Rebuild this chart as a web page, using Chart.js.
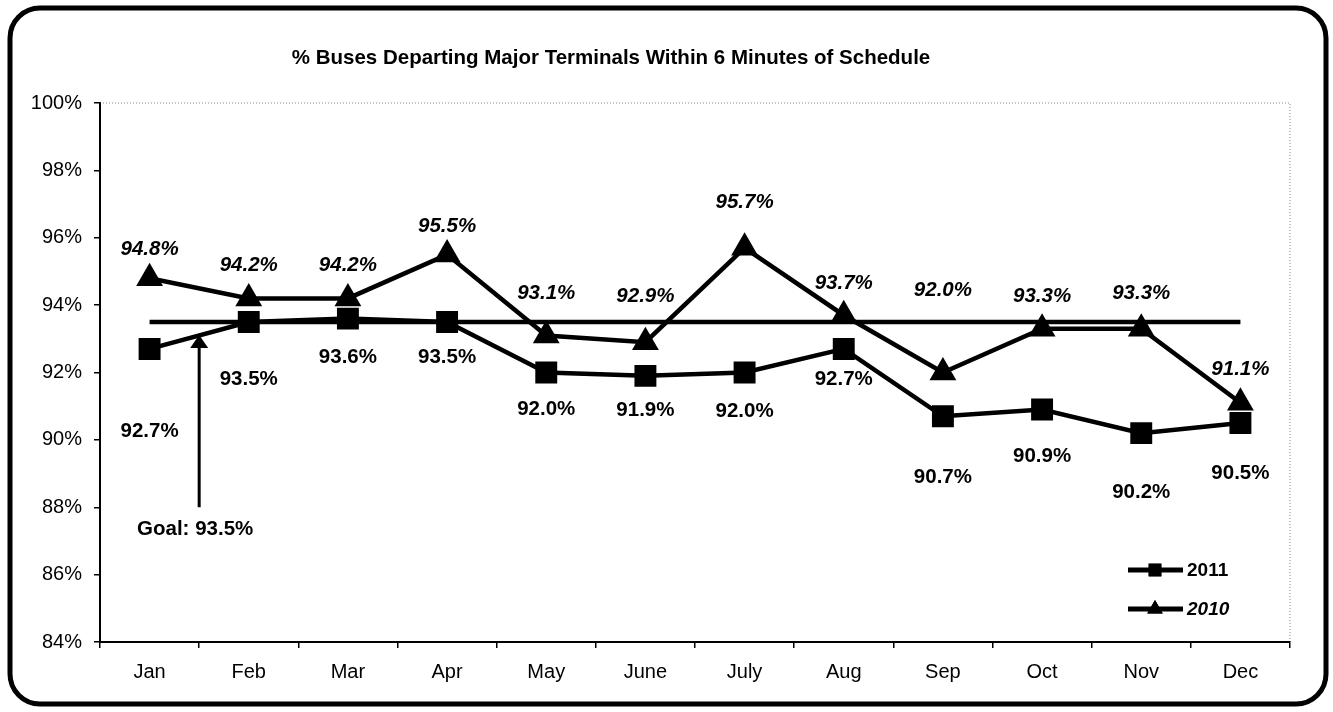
<!DOCTYPE html>
<html>
<head>
<meta charset="utf-8">
<script src="https://cdn.jsdelivr.net/npm/chart.js@4/dist/chart.umd.min.js"></script>
<style>
  html, body { margin: 0; padding: 0; background: #fff; }
  canvas { display: block; }
</style>
</head>
<body>
<canvas id="canvas" width="1333" height="712"></canvas>
<script>
// chart values
const months = ["Jan", "Feb", "Mar", "Apr", "May", "June", "July", "Aug", "Sep", "Oct", "Nov", "Dec"];
const y2011 = [92.7, 93.5, 93.6, 93.5, 92.0, 91.9, 92.0, 92.7, 90.7, 90.9, 90.2, 90.5];
const y2010 = [94.8, 94.2, 94.2, 95.5, 93.1, 92.9, 95.7, 93.7, 92.0, 93.3, 93.3, 91.1];
const goal = [93.5, 93.5, 93.5, 93.5, 93.5, 93.5, 93.5, 93.5, 93.5, 93.5, 93.5, 93.5];
const yTicks = [84, 86, 88, 90, 92, 94, 96, 98, 100];
const title = "% Buses Departing Major Terminals Within 6 Minutes of Schedule";

// label nudges (px) so the labels sit where the original put them
const dy2011 = [82, 57, 39, 35, 37, 34, 39, 30, 61, 47, 59, 50];
const dy2010 = [-29, -33, -33, -28, -42, -46, -46, -32, -82, -32, -35, -33];

const FONT = "'Liberation Sans', Arial, sans-serif";

const frame = {
  id: 'frame',
  beforeDraw(chart) {
    const ctx = chart.ctx;
    ctx.save();
    ctx.fillStyle = '#fff';
    ctx.fillRect(0, 0, chart.width, chart.height);
    ctx.lineWidth = 5;
    ctx.strokeStyle = '#000';
    ctx.beginPath();
    ctx.roundRect(10, 8, 1316, 696, 30);
    ctx.stroke();
    // title
    ctx.fillStyle = '#000';
    ctx.font = 'bold 20.5px ' + FONT;
    ctx.textAlign = 'center';
    ctx.textBaseline = 'middle';
    ctx.fillText(title, 611, 58);
    // dotted top / right edge of the plot
    const a = chart.chartArea;
    ctx.strokeStyle = '#888';
    ctx.lineWidth = 1;
    ctx.setLineDash([1, 2]);
    ctx.beginPath();
    ctx.moveTo(a.left, a.top);
    ctx.lineTo(a.right, a.top);
    ctx.lineTo(a.right, a.bottom);
    ctx.stroke();
    ctx.restore();
  },
  afterDatasetsDraw(chart) {
    const ctx = chart.ctx;
    const xs = chart.scales.x, ys = chart.scales.y;
    ctx.save();
    ctx.fillStyle = '#000';
    ctx.textAlign = 'center';
    ctx.textBaseline = 'middle';
    // data labels
    const m11 = chart.getDatasetMeta(0), m10 = chart.getDatasetMeta(1);
    ctx.font = 'bold 20.5px ' + FONT;
    y2011.forEach((v, i) => {
      const p = m11.data[i];
      ctx.fillText(v.toFixed(1) + '%', p.x, p.y + dy2011[i]);
    });
    ctx.font = 'italic bold 20.5px ' + FONT;
    y2010.forEach((v, i) => {
      const p = m10.data[i];
      ctx.fillText(v.toFixed(1) + '%', p.x, p.y + dy2010[i]);
    });

    // goal arrow
    const ax = (xs.getPixelForValue(0) + xs.getPixelForValue(1)) / 2;
    const tip = ys.getPixelForValue(goal[0]) + 13;
    const end = ys.getPixelForValue(88);
    ctx.strokeStyle = '#000';
    ctx.lineWidth = 3;
    ctx.beginPath();
    ctx.moveTo(ax, tip + 8);
    ctx.lineTo(ax, end);
    ctx.stroke();
    ctx.beginPath();
    ctx.moveTo(ax, tip);
    ctx.lineTo(ax - 9, tip + 13);
    ctx.lineTo(ax + 9, tip + 13);
    ctx.closePath();
    ctx.fill();
    ctx.font = 'bold 20.5px ' + FONT;
    ctx.fillText('Goal: ' + goal[0] + '%', ax - 4, end + 22);

    // legend
    const rows = [
      { label: '2011', style: 'rect', font: 'bold 19px ' + FONT, y: 570 },
      { label: '2010', style: 'triangle', font: 'italic bold 19px ' + FONT, y: 609 }
    ];
    rows.forEach(r => {
      ctx.lineWidth = 5;
      ctx.beginPath();
      ctx.moveTo(1128, r.y);
      ctx.lineTo(1183, r.y);
      ctx.stroke();
      Chart.helpers.drawPoint(ctx, { pointStyle: r.style, radius: 9, borderWidth: 0 }, 1155, r.y);
      ctx.fill();
      ctx.font = r.font;
      ctx.textAlign = 'left';
      ctx.fillText(r.label, 1187, r.y + 1);
    });
    ctx.restore();
  }
};

new Chart(document.getElementById('canvas').getContext('2d'), {
  type: 'line',
  data: {
    labels: months,
    datasets: [
      {
        label: '2011', data: y2011, order: 1,
        borderColor: '#000', backgroundColor: '#000', borderWidth: 4.5,
        pointStyle: 'rect', pointRadius: 15.5, pointBorderWidth: 0,
        pointBackgroundColor: '#000', tension: 0
      },
      {
        label: '2010', data: y2010, order: 0,
        borderColor: '#000', backgroundColor: '#000', borderWidth: 4.5,
        pointStyle: 'triangle', pointRadius: 15.5, pointBorderWidth: 0,
        pointBackgroundColor: '#000', tension: 0
      },
      {
        label: 'Goal', data: goal, order: 2,
        borderColor: '#000', borderWidth: 4.5, pointRadius: 0
      }
    ]
  },
  options: {
    responsive: false,
    animation: false,
    events: [],
    layout: { padding: { left: 20, right: 43, top: 103, bottom: 30 } },
    plugins: { legend: { display: false }, title: { display: false }, tooltip: { enabled: false } },
    scales: {
      x: {
        offset: true,
        grid: { offset: true, drawOnChartArea: false, drawTicks: true, tickLength: 6, color: '#000', lineWidth: 1.5 },
        border: { display: true, color: '#000', width: 2 },
        ticks: { color: '#000', font: { family: FONT, size: 20 }, padding: 12, maxRotation: 0 },
        afterFit(s) { s.height = 40; }
      },
      y: {
        min: yTicks[0], max: yTicks[yTicks.length - 1],
        afterBuildTicks(s) { s.ticks = yTicks.map(v => ({ value: v })); },
        grid: { drawOnChartArea: false, drawTicks: true, tickLength: 6, color: '#000', lineWidth: 1.5 },
        border: { display: true, color: '#000', width: 2 },
        ticks: { color: '#000', font: { family: FONT, size: 20 }, padding: 12, callback: v => v + '%' },
        afterFit(s) { s.width = 80; }
      }
    }
  },
  plugins: [frame]
});
</script>
</body>
</html>
